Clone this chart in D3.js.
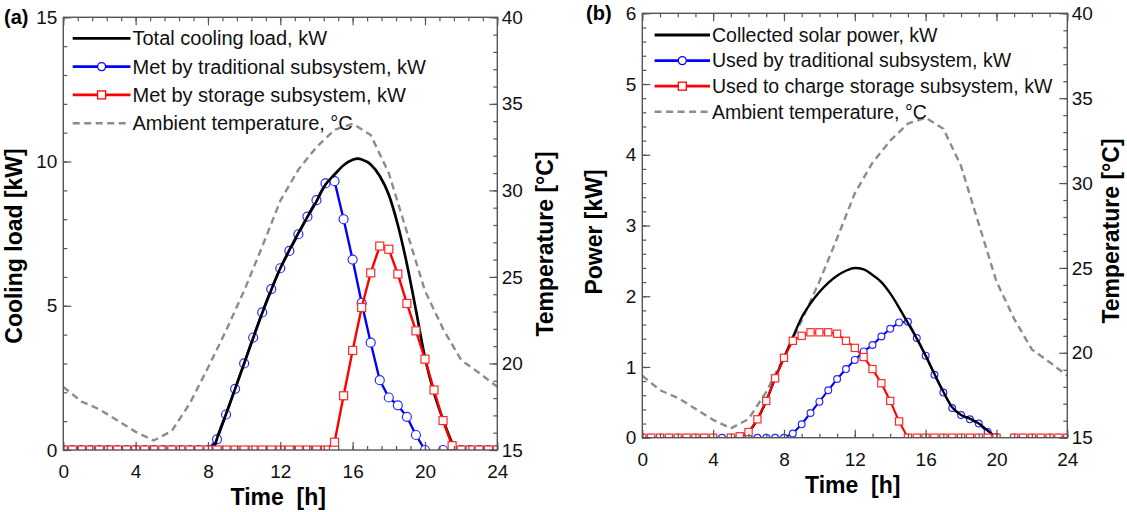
<!DOCTYPE html>
<html>
<head>
<meta charset="utf-8">
<script src="https://cdn.jsdelivr.net/npm/d3@7"></script>
<style>
  body { margin: 0; background: #fff; }
  svg text { font-family: "Liberation Sans", Arial, sans-serif; }
</style>
</head>
<body>
<svg id="chart" width="1127" height="512"></svg>
<script>
// ----------------------------------------
// DATA

// time grid [h]
var halfHours = [0,0.5,1,1.5,2,2.5,3,3.5,4,4.5,5,5.5,6,6.5,7,7.5,8,8.5,9,9.5,10,10.5,11,11.5,
  12,12.5,13,13.5,14,14.5,15,15.5,16,16.5,17,17.5,18,18.5,19,19.5,20,20.5,21,21.5,22,22.5,23,23.5,24];
var hours = [0,1,2,3,4,5,6,7,8,9,10,11,12,13,14,15,16,17,18,19,20,21,22,23,24];

// ambient temperature [°C], hourly (same in both panels)
var ambientTemp = [18.65,17.8,17.35,16.7,16.05,15.55,16.1,17.7,19.75,21.9,24.2,26.75,29.4,
  31.2,32.5,33.5,33.85,33.2,31.0,27.6,24.2,22.0,20.2,19.45,18.65];

// (a) cooling load [kW], half-hourly
var aTraditional = [0,0,0,0,0,0,0,0,0,0,0,0,0,0,0,0,0,
  0.37,1.23,2.12,3.0,3.9,4.77,5.58,6.3,6.9,7.48,8.09,8.66,9.24,9.32,8.0,6.6,5.1,3.72,2.42,
  1.82,1.55,1.15,0.52,0, null, 0,0,0,0,0,0,0];
var aStorage = [0,0,0,0,0,0,0,0,0,0,0,0,0,0,0,0,0,0,0,0,0,0,0,0,0,0,0,0,0,0,
  0.27,1.88,3.45,4.94,6.14,7.07,6.96,6.1,5.08,4.13,3.15,2.08,1.02,0.15, 0,0,0,0,0];
var aTotalTime = [8.3,8.5,9,9.5,10,10.5,11,11.5,12,12.5,13,13.5,14,14.5,15,15.5,16,16.3,16.5,
  17,17.5,18,18.5,19,19.5,20,20.5,21,21.5,21.7];
var aTotalLoad = [0,0.4,1.25,2.12,3.0,3.88,4.75,5.55,6.3,6.93,7.52,8.08,8.62,9.2,9.55,9.87,10.06,10.1,10.07,
  9.9,9.5,8.85,7.8,6.45,4.85,3.2,1.98,1.05,0.25,0];

// (b) solar power [kW], half-hourly
var bTraditional = [0,0,0,0,0,0,0,0,0,0,0,0,0,0,0,0,0,
  0.06,0.19,0.35,0.51,0.67,0.83,0.97,1.1,1.22,1.31,1.43,1.54,1.63,1.64,1.41,1.16,0.89,0.64,0.42,
  0.32,0.26,0.2,0.08,0.01, null, 0,0,0,0,0,0,0];
var bCharge = [0,0,0,0,0,0,0,0,0, null,
  0,0.02,0.08,0.26,0.52,0.84,1.13,1.37,1.44,1.49,1.49,1.49,1.47,1.37,1.27,1.14,0.97,0.77,0.52,0.23,0,
  0,0,0,0,0,0,0,0,0,0, null, 0,0,0,0,0,0,0];
var bSolarTime = [5,5.5,6,6.5,7,7.5,8,8.5,9,9.5,10,10.5,11,11.5,12,12.5,13,13.5,14,14.5,15,15.5,
  16,16.5,17,17.5,18,18.5,19,19.5,19.9];
var bSolarPower = [0,0.02,0.08,0.26,0.52,0.84,1.13,1.42,1.7,1.9,2.06,2.19,2.29,2.36,2.4,2.38,2.3,2.2,
  2.04,1.84,1.62,1.4,1.16,0.9,0.65,0.43,0.32,0.27,0.2,0.1,0.02];

// ticks
var timeTicks = [0,4,8,12,16,20,24];
var tempTicks = [15,20,25,30,35,40];
var aLoadTicks = [0,5,10,15];
var bPowerTicks = [0,1,2,3,4,5,6];

// legends
var aLegend = ["Total cooling load, kW", "Met by traditional subsystem, kW",
  "Met by storage subsystem, kW", "Ambient temperature, °C"];
var bLegend = ["Collected solar power, kW", "Used by traditional subsystem, kW",
  "Used to charge storage subsystem, kW", "Ambient temperature, °C"];

// ----------------------------------------
// DRAWING

var svg = d3.select("#chart");
var axisColor = "#555";
var grey = "#8c8c8c";

function addAxis(g, axis, tr, len, values, labels, pad) {
  var a = g.append("g").attr("transform", tr)
    .call(axis.tickValues(values).tickSizeInner(-len).tickSizeOuter(0)
      .tickPadding(pad).tickFormat(labels ? function (d) { return String(d); } : ""));
  a.select(".domain").remove();
  a.selectAll("line").attr("stroke", axisColor).attr("stroke-width", 1.2);
  a.selectAll("text").attr("font-size", 19).attr("fill", "#111")
    .attr("font-family", '"Liberation Sans", Arial, sans-serif');
  return a;
}

function drawPanel(p) {
  var w = p.x1 - p.x0, h = p.y1 - p.y0;
  var g = svg.append("g").attr("transform", "translate(" + p.x0 + "," + p.y0 + ")");

  var x = d3.scaleLinear().domain([0, 24]).range([0, w]);
  var y = d3.scaleLinear().domain([0, p.yMax]).range([h, 0]);
  var yT = d3.scaleLinear().domain([15, 40]).range([h, 0]);

  g.append("clipPath").attr("id", "clip-" + p.id)
    .append("rect").attr("width", w).attr("height", h);
  var plot = g.append("g").attr("clip-path", "url(#clip-" + p.id + ")");

  var seg = d3.line()
    .defined(function (d) { return d[1] != null; })
    .x(function (d) { return x(d[0]); })
    .y(function (d) { return y(d[1]); });

  // ambient temperature
  plot.append("path")
    .datum(hours.map(function (t, i) { return [t, ambientTemp[i]]; }))
    .attr("d", d3.line().x(function (d) { return x(d[0]); }).y(function (d) { return yT(d[1]); }))
    .attr("fill", "none").attr("stroke", grey).attr("stroke-width", 2.4)
    .attr("stroke-dasharray", "7,4.5");

  // blue series with circles
  var blue = halfHours.map(function (t, i) { return [t, p.blue[i]]; });
  plot.append("path").datum(blue).attr("d", seg)
    .attr("fill", "none").attr("stroke", "#0000ff").attr("stroke-width", p.lw);
  plot.selectAll(".circ").data(blue.filter(function (d) { return d[1] != null; }))
    .join("circle").attr("class", "circ")
    .attr("cx", function (d) { return x(d[0]); })
    .attr("cy", function (d) { return y(d[1]); })
    .attr("r", p.r).attr("fill", "#fff").attr("stroke", "#2a2aff").attr("stroke-width", 1.2);

  // black smooth curve
  plot.append("path")
    .datum(p.totalT.map(function (t, i) { return [t, p.totalV[i]]; }))
    .attr("d", d3.line().curve(d3.curveMonotoneX)
      .x(function (d) { return x(d[0]); }).y(function (d) { return y(d[1]); }))
    .attr("fill", "none").attr("stroke", "#000").attr("stroke-width", p.lw + 0.3);

  // red series with squares
  var red = halfHours.map(function (t, i) { return [t, p.red[i]]; });
  plot.append("path").datum(red).attr("d", seg)
    .attr("fill", "none").attr("stroke", "#ff0000").attr("stroke-width", p.lw);
  plot.selectAll(".sq").data(red.filter(function (d) { return d[1] != null; }))
    .join("rect").attr("class", "sq")
    .attr("x", function (d) { return x(d[0]) - p.s / 2; })
    .attr("y", function (d) { return y(d[1]) - p.s / 2; })
    .attr("width", p.s).attr("height", p.s)
    .attr("fill", "#fff").attr("stroke", "#ff2a2a").attr("stroke-width", 1.2);

  // axes, ticks inward
  var xMinor = d3.range(0, 24.001, p.xMinor);
  var yMinor = d3.range(0, p.yMax + 0.001, p.yMinor);
  var tMinor = d3.range(15, 40.001, 1);
  addAxis(g, d3.axisBottom(x), "translate(0," + h + ")", 4, xMinor, false, 0);
  addAxis(g, d3.axisBottom(x), "translate(0," + h + ")", 8, timeTicks, true, p.xPad);
  addAxis(g, d3.axisTop(x), "translate(0,0)", 4, xMinor, false, 0);
  addAxis(g, d3.axisTop(x), "translate(0,0)", 8, timeTicks, false, 0);
  addAxis(g, d3.axisLeft(y), "translate(0,0)", 4, yMinor, false, 0);
  addAxis(g, d3.axisLeft(y), "translate(0,0)", 8, p.yTicks, true, 6);
  addAxis(g, d3.axisRight(yT), "translate(" + w + ",0)", 4, tMinor, false, 0);
  addAxis(g, d3.axisRight(yT), "translate(" + w + ",0)", 8, tempTicks, true, 4.5);

  g.append("rect").attr("width", w).attr("height", h)
    .attr("fill", "none").attr("stroke", axisColor).attr("stroke-width", 1.4);

  // legend
  var styles = [
    { c: "#000", dash: null, m: null },
    { c: "#0000ff", dash: null, m: "circle" },
    { c: "#ff0000", dash: null, m: "square" },
    { c: grey, dash: "7,4.5", m: null }
  ];
  p.legend.forEach(function (label, i) {
    var ly = p.legY + i * p.legStep;
    var st = styles[i];
    svg.append("line").attr("x1", p.legX1).attr("x2", p.legX2).attr("y1", ly).attr("y2", ly)
      .attr("stroke", st.c).attr("stroke-width", i === 3 ? 2.4 : 2.8)
      .attr("stroke-dasharray", st.dash);
    var mx = (p.legX1 + p.legX2) / 2;
    if (st.m === "circle") {
      svg.append("circle").attr("cx", mx).attr("cy", ly).attr("r", 4)
        .attr("fill", "#fff").attr("stroke", st.c).attr("stroke-width", 1.3);
    } else if (st.m === "square") {
      svg.append("rect").attr("x", mx - 4).attr("y", ly - 4).attr("width", 8).attr("height", 8)
        .attr("fill", "#fff").attr("stroke", st.c).attr("stroke-width", 1.3);
    }
    svg.append("text").attr("x", p.legX2 + 2).attr("y", ly).attr("dy", "0.35em")
      .attr("font-size", p.legFont).attr("fill", "#111").text(label);
  });

  // titles
  svg.append("text").attr("x", p.tag[0]).attr("y", p.tag[1])
    .attr("font-size", 20).attr("font-weight", "bold").text(p.tagText);
  svg.append("text").attr("x", (p.x0 + p.x1) / 2 - 2).attr("y", p.xTitleY)
    .attr("text-anchor", "middle").attr("font-size", 23).attr("font-weight", "bold")
    .style("white-space", "pre").text("Time  [h]");
  svg.append("text").attr("transform", "translate(" + p.yTitle[0] + "," + p.yTitle[1] + ") rotate(-90)")
    .attr("text-anchor", "middle").attr("font-size", 23).attr("font-weight", "bold").text(p.yTitleText);
  svg.append("text").attr("transform", "translate(" + p.tTitle[0] + "," + p.tTitle[1] + ") rotate(-90)")
    .attr("text-anchor", "middle").attr("font-size", 23).attr("font-weight", "bold").text("Temperature [°C]");
}

drawPanel({
  id: "a", x0: 63.3, x1: 497.3, y0: 17.3, y1: 450,
  yMax: 15, yTicks: aLoadTicks, yMinor: 1, xMinor: 0.8, xPad: 14.5,
  blue: aTraditional, red: aStorage, totalT: aTotalTime, totalV: aTotalLoad,
  lw: 2.4, r: 4.5, s: 8,
  legend: aLegend, legFont: 20, legX1: 72.7, legX2: 130.5, legY: 38.3, legStep: 28.3,
  tag: [4, 24], tagText: "(a)", xTitleY: 505,
  yTitle: [22, 246], yTitleText: "Cooling load [kW]", tTitle: [553, 244]
});

drawPanel({
  id: "b", x0: 642.3, x1: 1067.3, y0: 13.3, y1: 437.7,
  yMax: 6, yTicks: bPowerTicks, yMinor: 0.2, xMinor: 1, xPad: 15,
  blue: bTraditional, red: bCharge, totalT: bSolarTime, totalV: bSolarPower,
  lw: 2.1, r: 3.4, s: 7.2,
  legend: bLegend, legFont: 19.5, legX1: 654.6, legX2: 710, legY: 35, legStep: 25.6,
  tag: [586, 19.5], tagText: "(b)", xTitleY: 493,
  yTitle: [601.5, 232], yTitleText: "Power [kW]", tTitle: [1118.5, 231]
});
</script>
</body>
</html>
